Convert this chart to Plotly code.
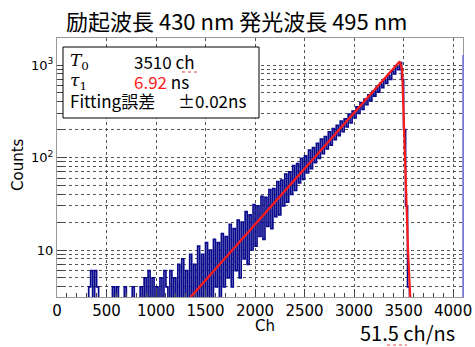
import plotly.graph_objects as go

# ---------------- data ----------------
bin_width = 20
start_ch = 0
counts = (
    [1] * 16 + [4, 6, 2, 6, 4] + [1] * 7 +
    [4, 1, 4, 1, 1, 1, 4, 1, 1, 1, 4, 1, 1, 1, 4, 1, 5, 1, 6, 3, 5, 1, 4, 2, 5, 1, 6] +
    [4, 1, 6, 2, 5, 1, 7, 2, 8, 1, 6, 2, 9, 3, 7, 2, 11, 2, 9, 3,
     12, 2, 10, 3, 13, 4, 12, 2, 15, 4, 14, 5, 19, 4, 17, 6, 21, 5, 20, 8,
     26, 7, 24, 10, 31, 11, 30, 14, 38, 13, 37, 18, 45, 17, 46, 23, 55, 24, 57, 30,
     66, 33, 70, 40, 82, 44, 86, 53, 98, 58, 104, 68, 120, 76, 128, 88, 142, 98, 158, 110,
     168, 124, 190, 136, 205, 156, 222, 172, 248, 190, 262, 214, 295, 236, 318, 268, 352, 300, 392, 332,
     428, 372, 476, 410, 520, 462, 575, 510, 632, 570, 705, 632, 775, 700, 860, 800, 975, 890, 1060, 700,
     200, 30, 4, 1] +
    [1] * 26
)
channels = [start_ch + i * bin_width for i in range(len(counts))]

fit_ch = [1350, 3460, 3485, 3500, 3520, 3545, 3575]
fit_counts = [3.1, 1090, 900, 300, 60, 10, 2]

x_tickvals = [0, 500, 1000, 1500, 2000, 2500, 3000, 3500, 4000]
y_tickvals = [10, 100, 1000]
y_ticktext = ["10", "10<sup>2</sup>", "10<sup>3</sup>"]
y_minor = [v * m for m in (1, 10, 100) for v in range(2, 10) if v * m != 10 and v * m != 100]

title_text = "励起波長 430 nm 発光波長 495 nm"
T0_text = "3510 ch"
tau_value = "6.92"
err_text = "±0.02ns"
rate_text = "51.5 ch/ns"

# ---------------- figure ----------------
L, R, T, B = 57, 12, 38, 50
W, H = 475, 347
pw, ph = W - L - R, H - T - B

def px(x):
    return (x - L) / pw

def py(y):
    return (H - B - y) / ph

fig = go.Figure()
fig.add_trace(go.Scatter(
    x=channels, y=counts, mode="lines", line=dict(color="#0a0a8c", width=1.7, shape="hv"),
    hoverinfo="skip", showlegend=False))
fig.add_trace(go.Scatter(
    x=fit_ch, y=fit_counts, mode="lines", line=dict(color="#ff1a1a", width=2.2),
    hoverinfo="skip", showlegend=False))

grid = dict(showgrid=True, gridcolor="#555555", griddash="dot", gridwidth=1)
fig.update_layout(
    width=W, height=H, margin=dict(l=L, r=R, t=T, b=B, autoexpand=False),
    paper_bgcolor="white", plot_bgcolor="white",
    font=dict(family="DejaVu Sans", color="black"),
    xaxis=dict(range=[0, 4100], tickvals=x_tickvals, ticks="inside", ticklen=8,
               tickcolor="#444", tickfont=dict(size=15, family="DejaVu Sans"),
               showline=True, linecolor="#999999", mirror=True, zeroline=False,
               automargin=False,
               minor=dict(dtick=100, ticks="inside", ticklen=4, tickcolor="#444", showgrid=False),
               **grid),
    yaxis=dict(type="log", range=[0.492, 3.292], tickvals=y_tickvals, ticktext=y_ticktext,
               ticks="inside", ticklen=10, tickcolor="#444",
               tickfont=dict(size=13, family="DejaVu Sans"),
               showline=True, linecolor="#999999", mirror=True, zeroline=False,
               automargin=False,
               minor=dict(tickmode="array", tickvals=y_minor, ticks="inside", ticklen=6,
                          tickcolor="#444", showgrid=True, gridcolor="#555555",
                          griddash="dot", gridwidth=1),
               **grid),
)

# right border in blue
fig.add_shape(type="line", xref="paper", yref="paper", x0=1, x1=1, y0=0, y1=py(55),
              line=dict(color="#7070e0", width=1.5))

# stats box
fig.add_shape(type="rect", xref="paper", yref="paper",
              x0=px(63), x1=px(259), y0=py(118), y1=py(47),
              line=dict(color="black", width=1), fillcolor="white", layer="above")

jp = "Noto Sans CJK JP"
box_font = dict(family=jp, size=17, color="black")
serif = dict(family="DejaVu Serif", size=17, color="black")
anns = [
    dict(x=px(68), y=py(61), text="<i>T</i><sub>0</sub>", xanchor="left", font=serif),
    dict(x=px(132), y=py(61), text=T0_text, xanchor="left", font=box_font),
    dict(x=px(68), y=py(81), text="<i>τ</i><sub>1</sub>", xanchor="left", font=serif),
    dict(x=px(132), y=py(81), text=f"<span style='color:#ff1a1a'>{tau_value}</span> ns",
         xanchor="left", font=box_font),
    dict(x=px(68), y=py(101), text="Fitting誤差", xanchor="left", font=box_font),
    dict(x=px(176), y=py(101), text=err_text, xanchor="left", font=box_font),
]
for a in anns:
    fig.add_annotation(xref="paper", yref="paper", showarrow=False, yanchor="middle", **a)

# spell-check squiggles under "ch"
for x0, x1, yy in [(182, 199, 72), (387, 407, 345)]:
    fig.add_shape(type="line", xref="paper", yref="paper", x0=px(x0), x1=px(x1),
                  y0=py(yy), y1=py(yy), line=dict(color="#e04040", width=1, dash="dot"),
                  layer="above")

fig.add_annotation(xref="paper", yref="paper", x=px(237), y=py(20), text=title_text,
                   showarrow=False, xanchor="center", yanchor="middle",
                   font=dict(family=jp, size=22, color="black"))
fig.add_annotation(xref="paper", yref="paper", x=px(265), y=py(326), text="Ch",
                   showarrow=False, xanchor="center", yanchor="middle",
                   font=dict(family="DejaVu Sans", size=15, color="black"))
fig.add_annotation(xref="paper", yref="paper", x=px(18), y=py(165), text="Counts",
                   showarrow=False, textangle=-90, xanchor="center", yanchor="middle",
                   font=dict(family="DejaVu Sans", size=15, color="black"))
fig.add_annotation(xref="paper", yref="paper", x=px(407), y=py(332), text=rate_text,
                   showarrow=False, xanchor="center", yanchor="middle",
                   font=dict(family=jp, size=20, color="black"))

fig.write_html("out.html", config={"displayModeBar": False},
               post_script="document.body.style.margin='0';")
